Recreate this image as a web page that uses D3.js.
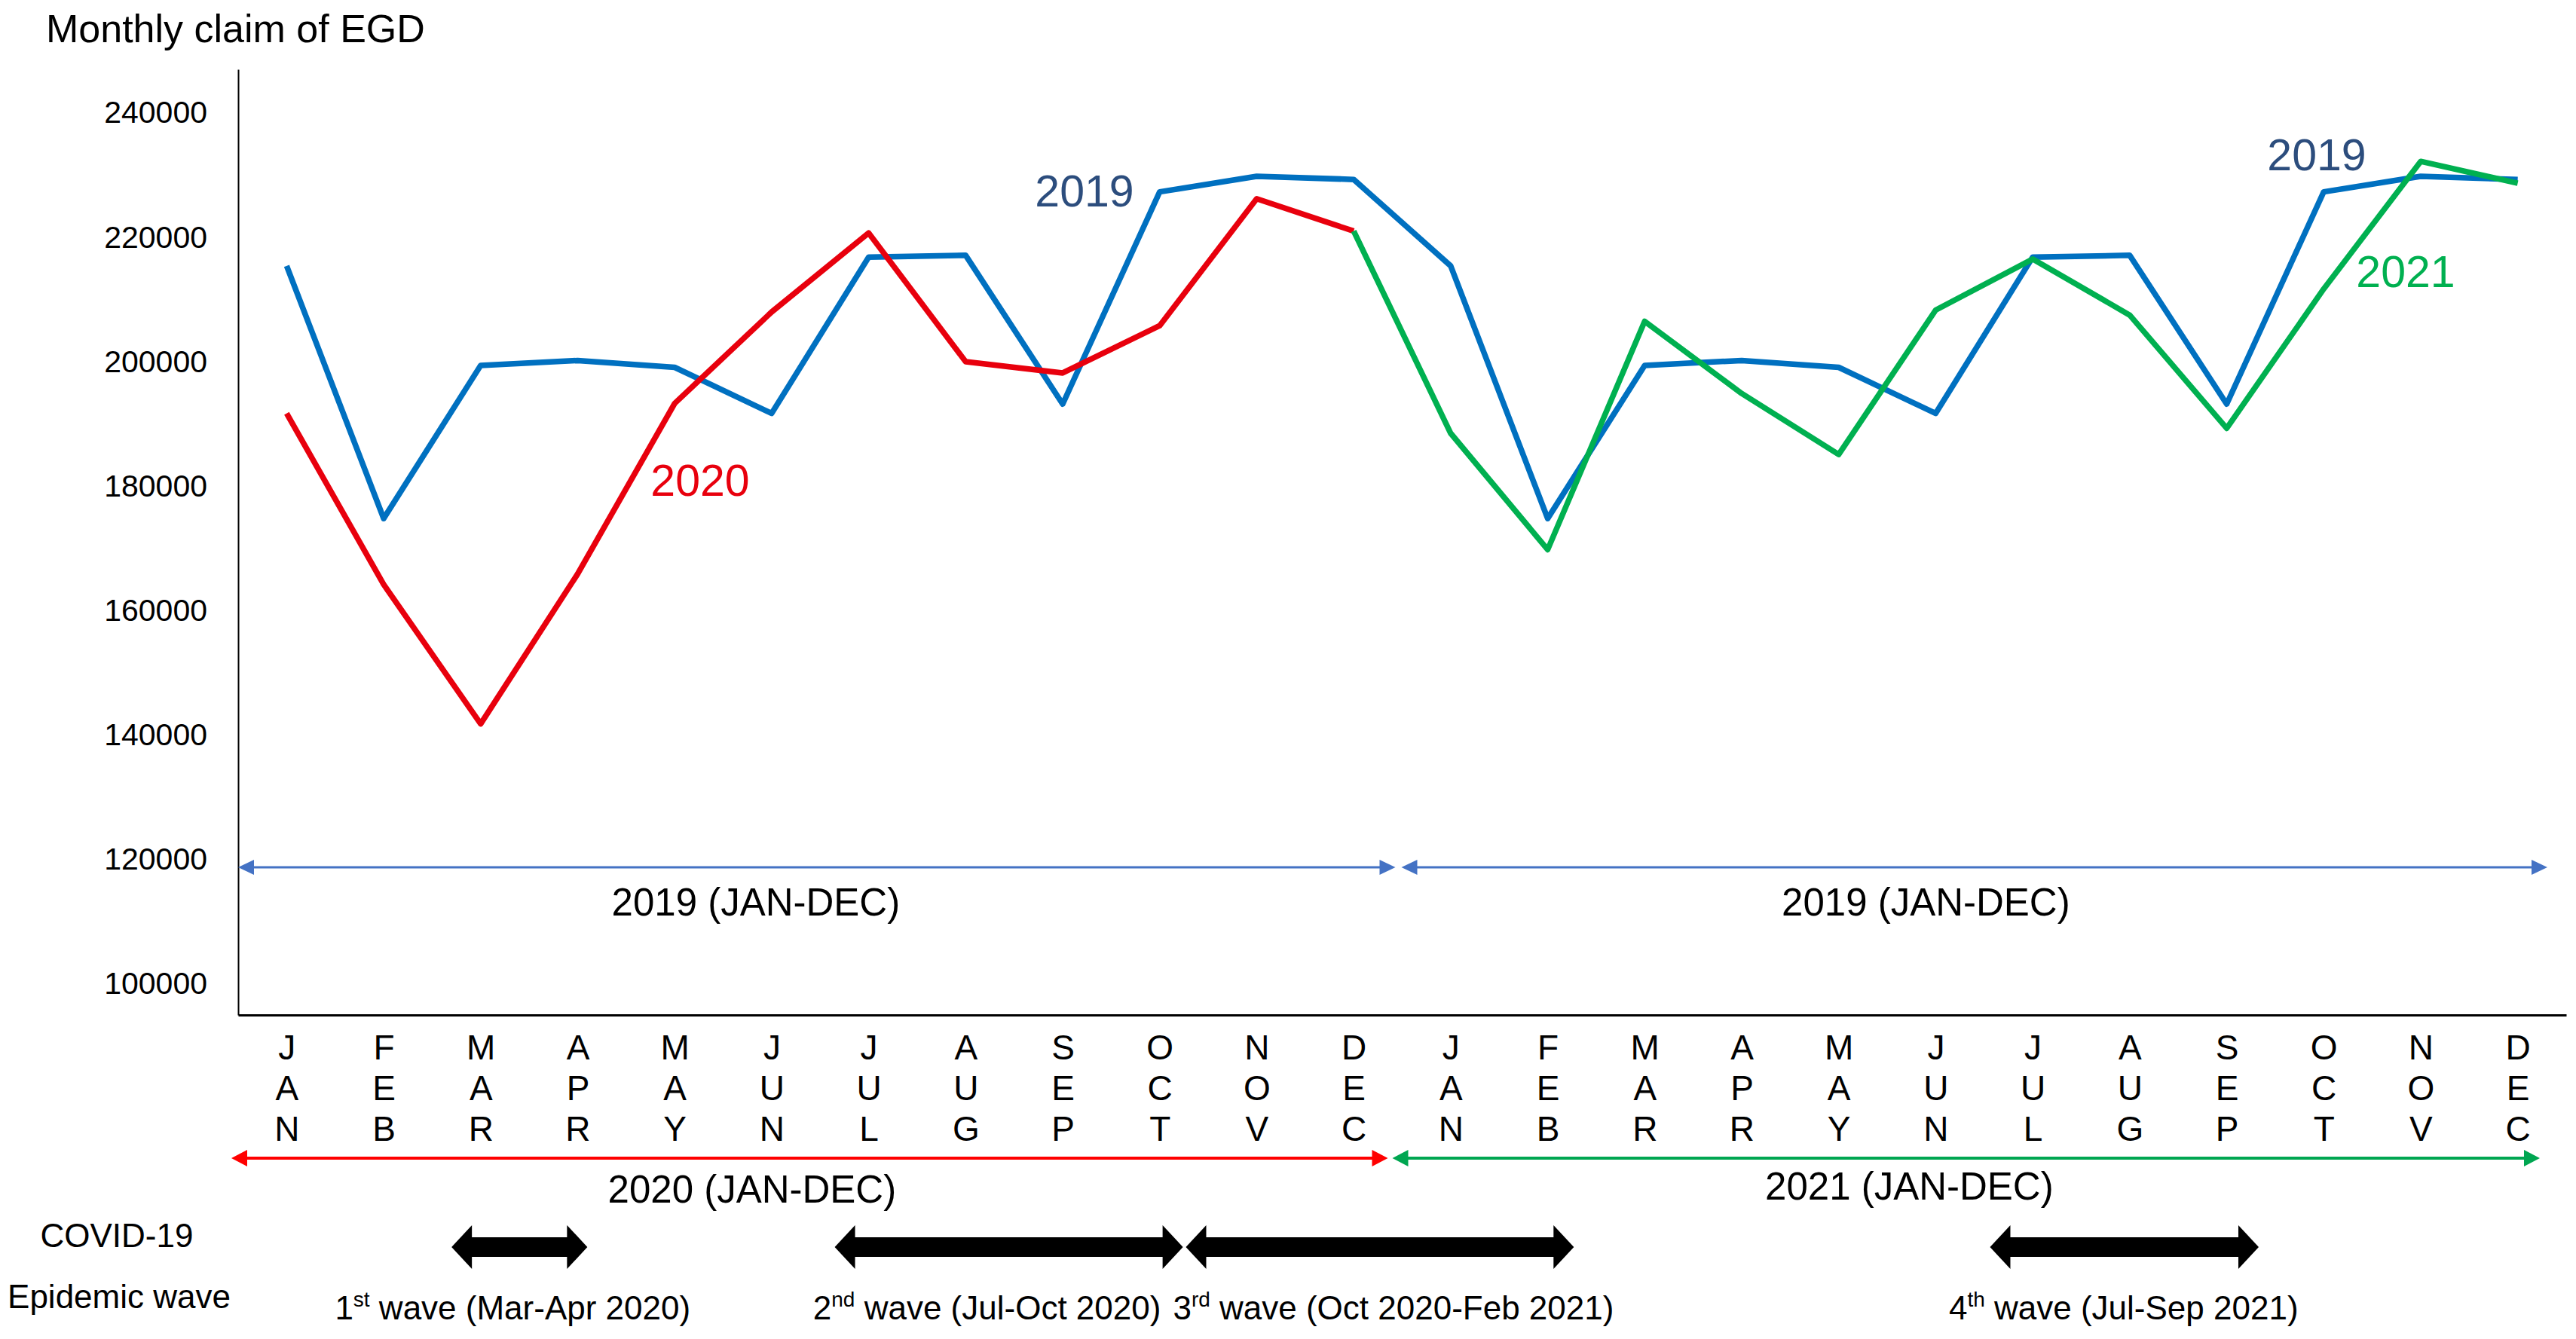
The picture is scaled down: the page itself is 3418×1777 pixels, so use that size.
<!DOCTYPE html>
<html>
<head>
<meta charset="utf-8">
<script src="https://cdn.jsdelivr.net/npm/d3@7"></script>
<style>
body { margin: 0; background: #fff; }
text { font-family: "Liberation Sans", Arial, sans-serif; fill: #000; }
</style>
</head>
<body>
<div id="chart"></div>
<script>
// values (monthly EGD claims)
var months = ['JAN', 'FEB', 'MAR', 'APR', 'MAY', 'JUN', 'JUL', 'AUG', 'SEP', 'OCT', 'NOV', 'DEC'];
var claims2019 = [215400, 174800, 199400, 200200, 199100, 191700, 216800, 217100, 193200, 227300, 229800, 229300];
var claims2020 = [191700, 164200, 141800, 165900, 193300, 208000, 220700, 200000, 198200, 205800, 226200, 221000];
var claims2021 = [188500, 169800, 206500, 194900, 185100, 208300, 216500, 207500, 189300, 211700, 232200, 228700];
var yTicks = [100000, 120000, 140000, 160000, 180000, 200000, 220000, 240000];

// epidemic waves, in month index units (0 = JAN 2020 ... 23 = DEC 2021)
var waveNames = [['1', 'st', ' wave (Mar-Apr 2020)'],
                 ['2', 'nd', ' wave (Jul-Oct 2020)'],
                 ['3', 'rd', ' wave (Oct 2020-Feb 2021)'],
                 ['4', 'th', ' wave (Jul-Sep 2021)']];
var waveStart = [1.70, 5.65, 9.27, 17.56];
var waveEnd = [3.10, 9.24, 13.27, 20.33];

var svgWidth = 3418, svgHeight = 1777;
var plot = {left: 316, right: 3405, top: 92, bottom: 1347};

var svg = d3.select('#chart').append('svg')
    .attr('width', svgWidth)
    .attr('height', svgHeight);

var idx = d3.range(24);
var x = d3.scalePoint().domain(idx).range([plot.left, plot.right]).padding(0.5);
var step = x.step();
var y = d3.scaleLinear().domain([95000, 247000]).range([plot.bottom, plot.top]);

// title
svg.append('text')
    .attr('x', 61).attr('y', 56)
    .style('font-size', '52px')
    .text('Monthly claim of EGD');

// y axis
var yAxis = d3.axisLeft(y).tickValues(yTicks).tickSize(0).tickPadding(41).tickFormat(d3.format('d'));
var gy = svg.append('g').attr('transform', 'translate(' + plot.left + ',0)').call(yAxis);
gy.select('.domain').attr('stroke', '#000').attr('stroke-width', 2);
gy.selectAll('.tick text').style('font-size', '41px').attr('fill', '#000')
    .style('font-family', '"Liberation Sans", Arial, sans-serif');

// x axis with stacked month letters
var xAxis = d3.axisBottom(x).tickSize(0).tickFormat(function (i) { return months[i % 12]; });
var gx = svg.append('g').attr('transform', 'translate(0,' + plot.bottom + ')').call(xAxis);
gx.select('.domain').attr('stroke', '#000').attr('stroke-width', 3);
gx.selectAll('.tick text').each(function (i) {
    var t = d3.select(this);
    var word = months[i % 12];
    t.text(null).attr('y', 0).attr('dy', null)
        .attr('fill', '#000')
        .style('font-size', '46px')
        .style('font-family', '"Liberation Sans", Arial, sans-serif');
    word.split('').forEach(function (ch, k) {
        t.append('tspan').attr('x', 0).attr('y', 59 + k * 54).text(ch);
    });
});

// year-range arrows
function spanArrow(x0, x1, yy, color, lw, hl, hh) {
    var g = svg.append('g');
    g.append('line')
        .attr('x1', x0 + hl - 2).attr('x2', x1 - hl + 2)
        .attr('y1', yy).attr('y2', yy)
        .attr('stroke', color).attr('stroke-width', lw);
    g.append('path')
        .attr('d', 'M' + x0 + ',' + yy + 'L' + (x0 + hl) + ',' + (yy - hh) + 'L' + (x0 + hl) + ',' + (yy + hh) + 'Z')
        .attr('fill', color);
    g.append('path')
        .attr('d', 'M' + x1 + ',' + yy + 'L' + (x1 - hl) + ',' + (yy - hh) + 'L' + (x1 - hl) + ',' + (yy + hh) + 'Z')
        .attr('fill', color);
}

var spanFrom = [0, 12, 0, 12];
var spanTo = [11, 23, 11, 23];
var spanLabels = ['2019 (JAN-DEC)', '2019 (JAN-DEC)', '2020 (JAN-DEC)', '2021 (JAN-DEC)'];
var spanColors = ['#4472C4', '#4472C4', '#FF0000', '#00A651'];
var spanY = [1151, 1151, 1537, 1537];
var spanTrim = [[0, 9], [-1, 25], [-9, 19], [-13, 35]];
var spanLabelY = [1215, 1215, 1596, 1592];
var spanLabelDx = [-21, -13, -26, -35];

spanLabels.forEach(function (lab, k) {
    var x0 = x(spanFrom[k]) - step / 2 + spanTrim[k][0];
    var x1 = x(spanTo[k]) + step / 2 - spanTrim[k][1];
    spanArrow(x0, x1, spanY[k], spanColors[k], k < 2 ? 3 : 4, 21, k < 2 ? 10 : 11);
    svg.append('text')
        .attr('x', x(k % 2 === 0 ? 5 : 17) + spanLabelDx[k])
        .attr('y', spanLabelY[k])
        .attr('text-anchor', 'middle')
        .style('font-size', '51px')
        .text(lab);
});

// data lines
var line = d3.line()
    .x(function (d) { return x(d.i); })
    .y(function (d) { return y(d.v); });

var blueData = claims2019.concat(claims2019).map(function (v, i) { return {i: i, v: v}; });
var redData = claims2020.map(function (v, i) { return {i: i, v: v}; });
var greenData = [{i: 11, v: claims2020[11]}].concat(claims2021.map(function (v, i) { return {i: i + 12, v: v}; }));

[[blueData, '#0070C0'], [redData, '#E8000D'], [greenData, '#00B050']].forEach(function (s) {
    svg.append('path')
        .datum(s[0])
        .attr('d', line)
        .attr('fill', 'none')
        .attr('stroke', s[1])
        .attr('stroke-width', 7.5)
        .attr('stroke-linejoin', 'round');
});

// series labels
var seriesLabels = [['2019', 1439, 274, '#2C4D7D'], ['2019', 3074, 226, '#2C4D7D'],
                    ['2020', 929, 658, '#E8000D'], ['2021', 3192, 381, '#00B050']];
seriesLabels.forEach(function (s) {
    svg.append('text')
        .attr('x', s[1]).attr('y', s[2])
        .attr('text-anchor', 'middle')
        .style('font-size', '59px')
        .style('fill', s[3])
        .text(s[0]);
});

// COVID-19 epidemic waves
svg.append('text').attr('x', 155).attr('y', 1655).attr('text-anchor', 'middle')
    .style('font-size', '44px').text('COVID-19');
svg.append('text').attr('x', 158).attr('y', 1736).attr('text-anchor', 'middle')
    .style('font-size', '44px').text('Epidemic wave');

var waveY = 1655, shaftH = 13, headH = 29, headL = 27;
var waveLabelDx = [-9, -29, 18, -1];

waveNames.forEach(function (name, k) {
    var x0 = x(0) + waveStart[k] * step;
    var x1 = x(0) + waveEnd[k] * step;
    var pts = [[x0, waveY], [x0 + headL, waveY - headH], [x0 + headL, waveY - shaftH],
               [x1 - headL, waveY - shaftH], [x1 - headL, waveY - headH], [x1, waveY],
               [x1 - headL, waveY + headH], [x1 - headL, waveY + shaftH],
               [x0 + headL, waveY + shaftH], [x0 + headL, waveY + headH]];
    svg.append('path')
        .attr('d', 'M' + pts.join('L') + 'Z')
        .attr('fill', '#000');

    var t = svg.append('text')
        .attr('x', (x0 + x1) / 2 + waveLabelDx[k])
        .attr('y', 1751)
        .attr('text-anchor', 'middle')
        .style('font-size', '44px');
    t.append('tspan').text(name[0]);
    t.append('tspan').attr('dy', -17).style('font-size', '28px').text(name[1]);
    t.append('tspan').attr('dy', 17).text(name[2]);
});
</script>
</body>
</html>
